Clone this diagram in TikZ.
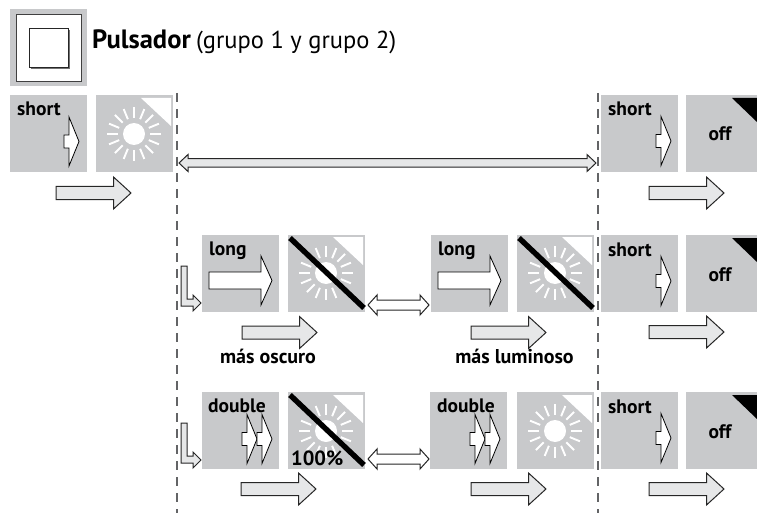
\documentclass[tikz,border=0pt]{standalone}
\usepackage{fontspec}
\setmainfont{PT Sans}
\definecolor{panelgray}{HTML}{C8C9CB}
\definecolor{flowgray}{HTML}{E6E7E8}
\definecolor{dashgray}{HTML}{636466}
\tikzset{
  keybox/.style = {fill = panelgray, inner sep = 0pt, minimum width = 77pt, minimum height = 77pt, anchor = north west},
  offbox/.style = {keybox, minimum width = 71pt},
  keylabel/.style = {inner sep = 0pt, anchor = base west, font = \fontsize{19.5}{19.5}\selectfont\bfseries},
  midlabel/.style = {keylabel, anchor = base},
  pressarrow/.style = {draw = black, fill = white, line width = 0.8pt, line join = miter},
  flowarrow/.style = {draw = black!85, fill = flowgray, line width = 1pt, line join = miter},
  guideline/.style = {draw = dashgray, line width = 1.5pt, dash pattern = on 9pt off 7pt}
}

\begin{document}
\begin{tikzpicture}[x = 1pt, y = -1pt]
\useasboundingbox (0,0) rectangle (757,513);
\def\blockarrow#1#2#3#4#5#6#7{\draw [#1, shift = {(#2,#3)}] (0,-#6) -- (#4,-#6) -- (#4,-#7) -- (#5,0) -- (#4,#7) -- (#4,#6) -- (0,#6) -- cycle;}
\def\bothways#1#2#3#4#5{\draw [flowarrow, fill = #5, shift = {(#1,#2)}] (0,0) -- (9,-#4) -- (9,-#4/2) -- (#3-9,-#4/2) -- (#3-9,-#4) -- (#3,0) -- (#3-9,#4) -- (#3-9,#4/2) -- (9,#4/2) -- (9,#4) -- cycle;}
\def\shortpress#1#2{\blockarrow{pressarrow}{#1}{#2}{5}{15}{6.5}{24.5}}
\def\flowstep#1#2{\blockarrow{flowarrow}{#1}{#2}{57.5}{75}{6.5}{16}}
\def\turnarrow#1{\draw [flowarrow, shift = {(0,#1)}] (181,266) -- (187,266) -- (187,299) -- (193,299) -- (193,295) -- (201,303) -- (193,311) -- (193,306) -- (181,306) -- cycle;}
\def\sunicon#1#2{%
  \foreach \ang in {0,22.5,...,337.5} {\draw [white, line width = 1.9pt, shift = {(#1,#2)}] (\ang:16) -- (\ang:27);}
  \fill [white] (#1,#2) circle [radius = 11];
  \fill [white, shift = {(#1,#2)}] (7,-36) -- (37,-36) -- (37,-8) -- cycle;
}
\def\slashicon#1#2{\draw [black, line width = 5.4pt, shift = {(#1,#2)}] (2,3) -- (76,73);}

% header
\node [keybox, minimum height = 77pt] (switchframe) at (10,9) {};
\draw [fill = white, draw = black!75, line width = 0.8pt] (16,14) rectangle (81,81);
\fill [black!55] (31,30) rectangle (70,69);
\draw [fill = white, draw = black!85, line width = 0.8pt] (29,28) rectangle (68,67);
\node [keylabel, font = \fontsize{26.5}{26.5}\selectfont\bfseries] (title) at (92,49) {Pulsador};
\node [keylabel, font = \fontsize{24.5}{24.5}\selectfont] (titlegroup) at (196,49) {(grupo 1 y grupo 2)};

% panels
\node [keybox] (shortone) at (10,95) {};
\node [keybox] (sunone) at (96,95) {};
\node [keybox] (longone) at (202,235) {};
\node [keybox] (suntwo) at (288,235) {};
\node [keybox] (longtwo) at (431,235) {};
\node [keybox] (sunthree) at (517,235) {};
\node [keybox] (doubleone) at (202,392) {};
\node [keybox] (sunfour) at (288,392) {};
\node [keybox] (doubletwo) at (430,392) {};
\node [keybox] (sunfive) at (517,392) {};
\foreach \name/\ypos/\yflow in {a/95/193,b/235/332,c/392/489} {
  \node [keybox] (short\name) at (601,\ypos) {};
  \node [offbox] (off\name) at (686,\ypos) {};
  \fill [black, shift = {(0,\ypos)}] (732,3) -- (757,3) -- (757,27) -- cycle;
  \node [midlabel] (offlabel\name) at (720,\ypos+46) {off};
  \node [keylabel] (shortlabel\name) at (608,\ypos+21) {short};
  \shortpress{656}{\ypos+46}
  \flowstep{649}{\yflow}
}

% dashed guides
\coordinate (guidelefttop) at (177,93);
\coordinate (guideleftend) at (177,513);
\coordinate (guiderighttop) at (598,93);
\coordinate (guiderightend) at (598,513);
\draw [guideline] (guidelefttop) -- (guideleftend);
\draw [guideline] (guiderighttop) -- (guiderightend);

% row one
\node [keylabel] (shortlabel) at (17,116) {short};
\shortpress{64}{141.5}
\sunicon{134}{134}
\flowstep{56}{193}
\bothways{179}{163}{417}{8.5}{flowgray}

% row two
\node [keylabel] (longlabel) at (209,255) {long};
\blockarrow{pressarrow}{209}{280.5}{52}{63}{8.5}{24.5}
\sunicon{326}{273}
\slashicon{288}{235}
\node [keylabel] (longlabeltwo) at (438,255) {long};
\blockarrow{pressarrow}{438}{280.5}{52}{63}{8.5}{24.5}
\sunicon{555}{273}
\slashicon{517}{235}
\turnarrow{0}
\bothways{368}{305}{61}{10}{white}
\flowstep{242}{332.5}
\flowstep{471}{332.5}
\node [midlabel, font = \fontsize{20}{20}\selectfont\bfseries] (darkerlabel) at (268,363) {más oscuro};
\node [midlabel, font = \fontsize{20}{20}\selectfont\bfseries] (brighterlabel) at (514.5,363) {más luminoso};

% row three
\node [keylabel] (doublelabel) at (208,412) {double};
\shortpress{242}{439}
\shortpress{257}{439}
\sunicon{326}{431}
\slashicon{288}{392}
\node [keylabel, font = \fontsize{20.5}{20.5}\selectfont\bfseries] (fulllabel) at (291,465) {100\%};
\node [keylabel] (doublelabeltwo) at (437,412) {double};
\shortpress{470}{439}
\shortpress{485}{439}
\sunicon{555}{431}
\turnarrow{157}
\bothways{368}{459}{61}{10}{white}
\flowstep{241}{489}
\flowstep{471}{489}
\end{tikzpicture}
\end{document}
